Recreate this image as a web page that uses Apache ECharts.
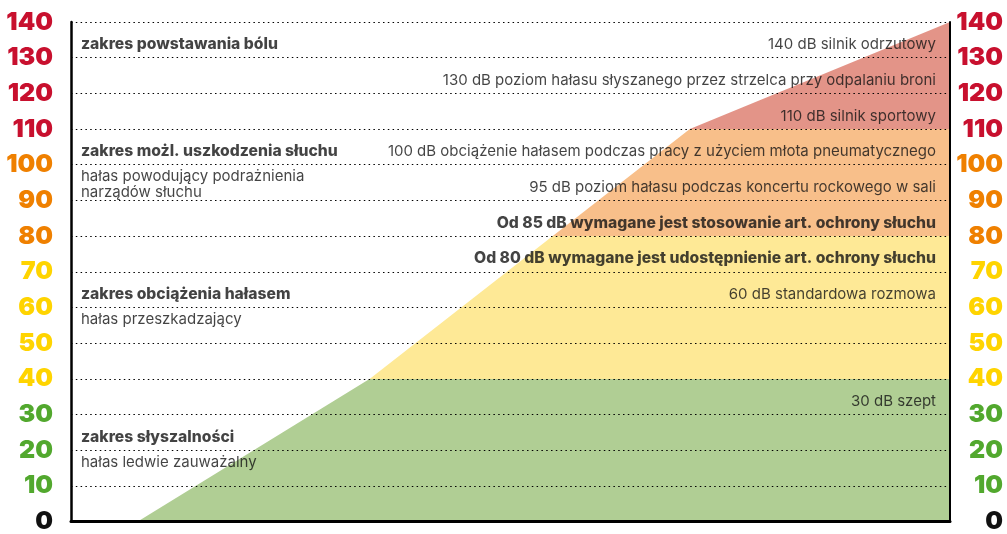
<!DOCTYPE html>
<html>
<head>
<meta charset="utf-8">
<script src="https://cdn.jsdelivr.net/npm/echarts@6/dist/echarts.min.js"></script>
<style>
  html, body { margin: 0; padding: 0; background: #fff; }
  #chart { width: 1007px; height: 534px; }
</style>
</head>
<body>
<div id="chart"></div>
<script>
// Noise-level scale (dB) and the ramp that outlines the coloured zone
const dbTicks = [0, 10, 20, 30, 40, 50, 60, 70, 80, 90, 100, 110, 120, 130, 140];
const rampX = [7.6, 34.0, 70.4, 100];
const rampDb = [0, 40, 110, 140];

// Zone limits (dB)
const zoneLimits = [40, 80, 110];

// Zone descriptions on the left, each tied to a grid level
const zoneLevels = [130, 100, 60, 20];
const zoneTitles = [
  'zakres powstawania bólu',
  'zakres możl. uszkodzenia słuchu',
  'zakres obciążenia hałasem',
  'zakres słyszalności'
];
const zoneDescs = [
  '',
  'hałas powodujący podrażnienia\nnarządów słuchu',
  'hałas przeszkadzający',
  'hałas ledwie zauważalny'
];

// Example sources on the right, each tied to a grid level
const exampleLevels = [130, 120, 110, 100, 90, 80, 70, 60, 30];
const exampleTexts = [
  '140 dB silnik odrzutowy',
  '130 dB poziom hałasu słyszanego przez strzelca przy odpalaniu broni',
  '110 dB silnik sportowy',
  '100 dB obciążenie hałasem podczas pracy z użyciem młota pneumatycznego',
  '95 dB poziom hałasu podczas koncertu rockowego w sali',
  'Od 85 dB wymagane jest stosowanie art. ochrony słuchu',
  'Od 80 dB wymagane jest udostępnienie art. ochrony słuchu',
  '60 dB standardowa rozmowa',
  '30 dB szept'
];
const exampleBold = [false, false, false, false, false, true, true, false, false];

const FONT = 'Inter';
const fillGreen = '#b0ce94', fillYellow = '#fee996', fillOrange = '#f8bf8a', fillRed = '#e39488';

function tickColor(v) {
  if (v === 0) return '#111111';
  if (v < zoneLimits[0]) return '#52a82e';
  if (v < zoneLimits[1]) return '#ffd400';
  if (v <= zoneLimits[2] - 10) return '#ef8000';
  return '#c8102e';
}

const chart = echarts.init(document.getElementById('chart'));

const noteText = { fontFamily: FONT, fontSize: 15, color: '#141414' };
const boldText = { fontFamily: FONT, fontSize: 15.7, fontWeight: 800, color: '#141414' };

const zoneTitleData = zoneLevels.map((lv, i) => ({
  value: [0, lv],
  label: {
    show: true, position: 'right', distance: 10, offset: [0, -13],
    formatter: zoneTitles[i], ...boldText
  }
}));
const zoneDescData = zoneLevels.map((lv, i) => ({
  value: [0, lv],
  label: {
    show: !!zoneDescs[i], position: 'right', distance: 10, offset: [0, 4],
    verticalAlign: 'top', lineHeight: 16,
    formatter: zoneDescs[i], ...noteText
  }
}));
const exampleData = exampleLevels.map((lv, i) => ({
  value: [100, lv],
  label: {
    show: true, position: 'left', distance: 14, offset: [0, -13],
    formatter: exampleTexts[i], ...(exampleBold[i] ? boldText : noteText)
  }
}));

chart.setOption({
  animation: false,
  grid: { left: 71, right: 57, top: 22, bottom: 8 },
  xAxis: {
    type: 'value', min: 0, max: 100, z: 6,
    axisLine: { show: true, onZero: false, lineStyle: { color: '#000', width: 3 } },
    axisTick: { show: false }, axisLabel: { show: false }, splitLine: { show: false }
  },
  yAxis: [
    {
      type: 'value', min: 0, max: 140, interval: 10, position: 'left', z: 5,
      axisLine: { show: true, lineStyle: { color: '#000', width: 2.5 } },
      axisTick: { show: false },
      axisLabel: {
        margin: 18, fontFamily: FONT, fontWeight: 900, fontSize: 25,
        color: (v) => tickColor(Number(v))
      },
      splitLine: { show: true, lineStyle: { color: '#000', width: 1.2, type: [1.5, 3.3] } }
    },
    {
      type: 'value', min: 0, max: 140, interval: 10, position: 'right', z: 5,
      axisLine: { show: true, lineStyle: { color: '#000', width: 2 } },
      axisTick: { show: false },
      axisLabel: {
        margin: 53, align: 'right', fontFamily: FONT, fontWeight: 900, fontSize: 25,
        color: (v) => tickColor(Number(v))
      },
      splitLine: { show: false }
    }
  ],
  visualMap: {
    show: false, seriesIndex: 0, dimension: 1,
    pieces: [
      { lt: zoneLimits[0], color: fillGreen },
      { gte: zoneLimits[0], lt: zoneLimits[1], color: fillYellow },
      { gte: zoneLimits[1], lt: zoneLimits[2], color: fillOrange },
      { gte: zoneLimits[2], color: fillRed }
    ]
  },
  series: [
    {
      type: 'line', z: 2,
      data: rampX.map((x, i) => [x, rampDb[i]]),
      symbol: 'none', lineStyle: { width: 0 },
      areaStyle: { opacity: 1 }
    },
    {
      type: 'scatter', z: 10, symbolSize: 0, silent: true,
      data: zoneTitleData.concat(zoneDescData, exampleData)
    }
  ]
});
</script>
</body>
</html>
